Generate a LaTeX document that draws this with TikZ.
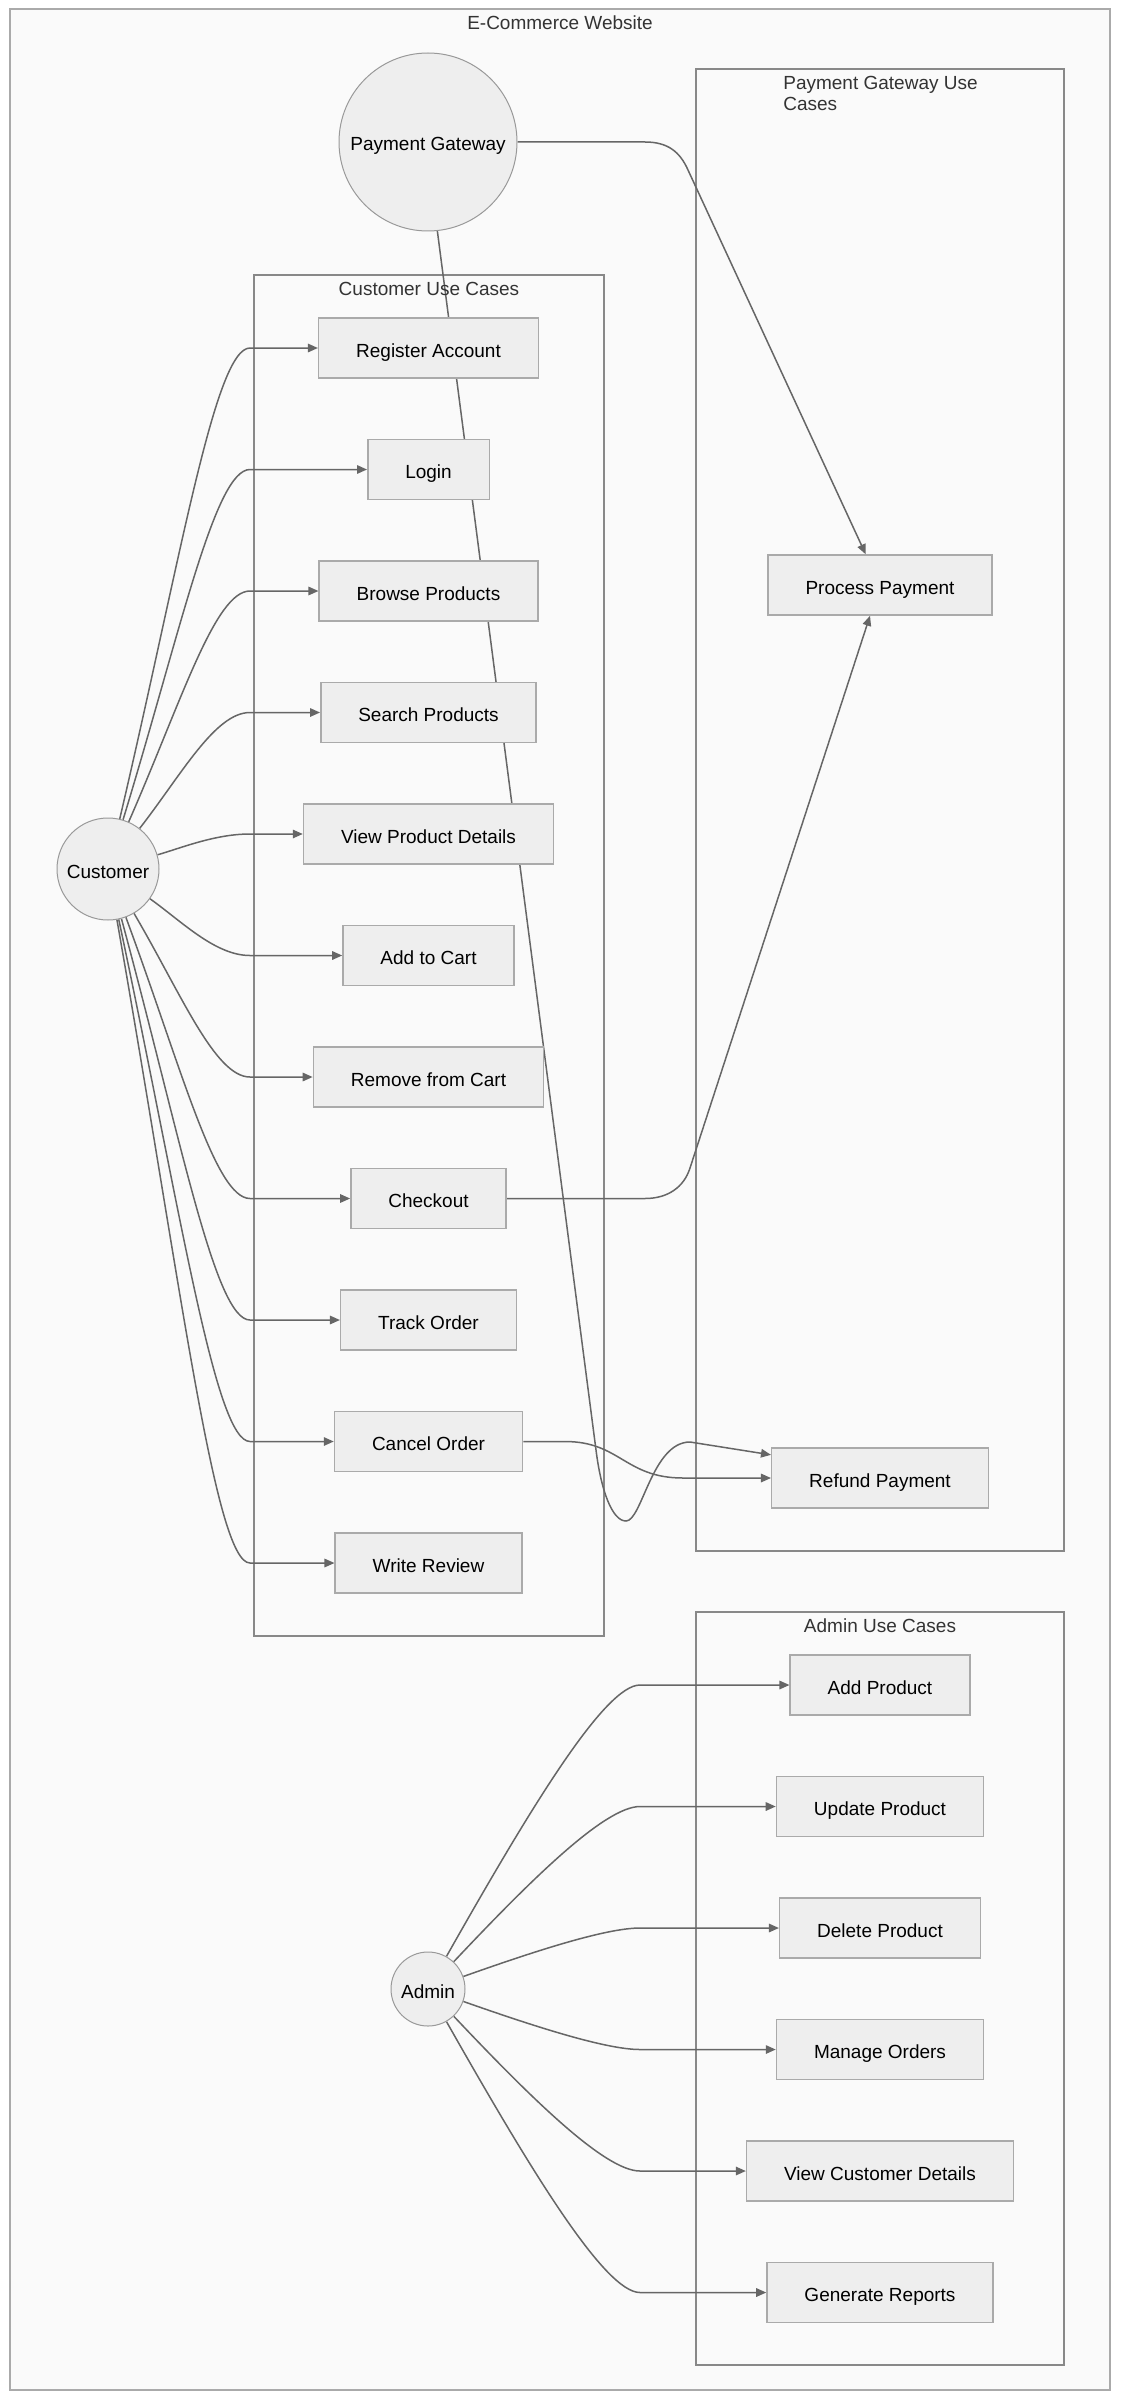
\documentclass[tikz,border=0pt]{standalone}
\usepackage{fontspec}
\setmainfont{Liberation Sans}
\usetikzlibrary{arrows.meta, positioning, calc}

\definecolor{pagebg}{HTML}{FAFAFA}
\definecolor{framegray}{HTML}{AAAAAA}
\definecolor{clustergray}{HTML}{888888}
\definecolor{boxfill}{HTML}{EEEEEE}
\definecolor{boxline}{HTML}{AAAAAA}
\definecolor{actorline}{HTML}{999999}
\definecolor{linkgray}{HTML}{666666}
\definecolor{titlegray}{HTML}{333333}

\newcommand{\diagfont}{\fontsize{19}{21}\selectfont}

\pgfdeclarelayer{back}
\pgfdeclarelayer{links}
\pgfsetlayers{back,links,main}

\tikzset{
  usecase/.style={draw=boxline, fill=boxfill, line width=1.5pt, minimum height=60pt, inner xsep=37.5pt, text height=18pt, text depth=0pt, font=\diagfont},
  actor/.style={circle, draw=actorline, fill=boxfill, line width=1pt, inner sep=0pt, text height=18pt, text depth=0pt, font=\diagfont},
  cluster/.style={draw=clustergray, line width=1.2pt},
  grouptitle/.style={inner sep=0pt, text=titlegray, font=\diagfont},
  link/.style={draw=linkgray, line width=1.5pt, -{Triangle[length=10pt, width=8.5pt]}}
}

\begin{document}
\begin{tikzpicture}[x=1pt, y=-1pt, node distance=60pt]
  \useasboundingbox (0,0) rectangle (1120,2400);
  % Frame and groups
  \begin{pgfonlayer}{back}
    \fill[white] (0,0) rectangle (1120,2400);
    \draw[draw=framegray, fill=pagebg, line width=2pt] (10,9) rectangle (1110,2390);
    \draw[cluster] (254,275) rectangle (604,1636);
    \draw[cluster] (696,69) rectangle (1064,1551);
    \draw[cluster] (696,1612) rectangle (1064,2365);
  \end{pgfonlayer}
  \node[grouptitle, anchor=base] (sitetitle) at (560,30) {E-Commerce Website};
  \node[grouptitle, anchor=base] (custtitle) at (429,295) {Customer Use Cases};
  \node[grouptitle, anchor=north, align=left] (paytitle) at (880.5,76) {Payment Gateway Use\\Cases};
  \node[grouptitle, anchor=base] (admintitle) at (880,1632) {Admin Use Cases};

  % Actors
  \node[actor, minimum size=178pt] (gateway) at (428,142) {Payment Gateway};
  \node[actor, minimum size=102pt] (customer) at (108,869) {Customer};
  \node[actor, minimum size=74pt] (admin) at (428,1989) {Admin};

  % Customer use cases
  \node[usecase] (register) at (428.5,348) {Register Account};
  \node[usecase, below=of register] (login) {Login};
  \node[usecase, below=of login] (browse) {Browse Products};
  \node[usecase, below=of browse] (search) {Search Products};
  \node[usecase, below=of search] (details) {View Product Details};
  \node[usecase, below=of details] (addcart) {Add to Cart};
  \node[usecase, below=of addcart] (removecart) {Remove from Cart};
  \node[usecase, below=of removecart] (checkout) {Checkout};
  \node[usecase, below=of checkout] (track) {Track Order};
  \node[usecase, below=of track] (cancel) {Cancel Order};
  \node[usecase, below=of cancel] (review) {Write Review};

  % Payment gateway use cases
  \node[usecase] (process) at (880,585) {Process Payment};
  \node[usecase] (refund) at (880,1478) {Refund Payment};

  % Admin use cases
  \node[usecase] (addprod) at (880,1685) {Add Product};
  \node[usecase, below=of addprod] (updateprod) {Update Product};
  \node[usecase, below=of updateprod] (deleteprod) {Delete Product};
  \node[usecase, below=of deleteprod] (orders) {Manage Orders};
  \node[usecase, below=of orders] (custdetails) {View Customer Details};
  \node[usecase, below=of custdetails] (reports) {Generate Reports};

  % Bend points of the links
  \coordinate (custaim) at (230,0);
  \coordinate (custctrl) at (215,0);
  \coordinate (custbend) at (250,0);
  \coordinate (adminaim) at (600,0);
  \coordinate (adminctrl) at (605,0);
  \coordinate (adminbend) at (640,0);

  \begin{pgfonlayer}{links}
    % Customer links
    \draw[link] (customer) .. controls ($(customer)!0.6!(register -| custaim)$) and (register -| custctrl) .. (register -| custbend) -- (register);
    \draw[link] (customer) .. controls ($(customer)!0.6!(login -| custaim)$) and (login -| custctrl) .. (login -| custbend) -- (login);
    \draw[link] (customer) .. controls ($(customer)!0.6!(browse -| custaim)$) and (browse -| custctrl) .. (browse -| custbend) -- (browse);
    \draw[link] (customer) .. controls ($(customer)!0.6!(search -| custaim)$) and (search -| custctrl) .. (search -| custbend) -- (search);
    \draw[link] (customer) .. controls ($(customer)!0.6!(details -| custaim)$) and (details -| custctrl) .. (details -| custbend) -- (details);
    \draw[link] (customer) .. controls ($(customer)!0.6!(addcart -| custaim)$) and (addcart -| custctrl) .. (addcart -| custbend) -- (addcart);
    \draw[link] (customer) .. controls ($(customer)!0.6!(removecart -| custaim)$) and (removecart -| custctrl) .. (removecart -| custbend) -- (removecart);
    \draw[link] (customer) .. controls ($(customer)!0.6!(checkout -| custaim)$) and (checkout -| custctrl) .. (checkout -| custbend) -- (checkout);
    \draw[link] (customer) .. controls ($(customer)!0.6!(track -| custaim)$) and (track -| custctrl) .. (track -| custbend) -- (track);
    \draw[link] (customer) .. controls ($(customer)!0.6!(cancel -| custaim)$) and (cancel -| custctrl) .. (cancel -| custbend) -- (cancel);
    \draw[link] (customer) .. controls ($(customer)!0.6!(review -| custaim)$) and (review -| custctrl) .. (review -| custbend) -- (review);
    % Payment links
    \draw[link] (gateway.east) -- (645,142) .. controls (668,142) and (680,152) .. (688,170) -- (process.115);
    \draw[link] (checkout.east) -- (645,1198.5) .. controls (668,1198.5) and (684,1187) .. (690,1168) -- (process.-108);
    \draw[link] (cancel.east) -- (565,1441.5) .. controls (620,1441.5) and (625,1478) .. (683,1478) -- (refund.west);
    \draw[link] (gateway.-84) -- (596,1450) .. controls (601,1490) and (612,1521) .. (626,1521) .. controls (642,1521) and (652,1442) .. (690,1442) -- (refund.168);
    % Admin links
    \draw[link] (admin) .. controls ($(admin)!0.6!(addprod -| adminaim)$) and (addprod -| adminctrl) .. (addprod -| adminbend) -- (addprod);
    \draw[link] (admin) .. controls ($(admin)!0.6!(updateprod -| adminaim)$) and (updateprod -| adminctrl) .. (updateprod -| adminbend) -- (updateprod);
    \draw[link] (admin) .. controls ($(admin)!0.6!(deleteprod -| adminaim)$) and (deleteprod -| adminctrl) .. (deleteprod -| adminbend) -- (deleteprod);
    \draw[link] (admin) .. controls ($(admin)!0.6!(orders -| adminaim)$) and (orders -| adminctrl) .. (orders -| adminbend) -- (orders);
    \draw[link] (admin) .. controls ($(admin)!0.6!(custdetails -| adminaim)$) and (custdetails -| adminctrl) .. (custdetails -| adminbend) -- (custdetails);
    \draw[link] (admin) .. controls ($(admin)!0.6!(reports -| adminaim)$) and (reports -| adminctrl) .. (reports -| adminbend) -- (reports);
  \end{pgfonlayer}
\end{tikzpicture}
\end{document}
